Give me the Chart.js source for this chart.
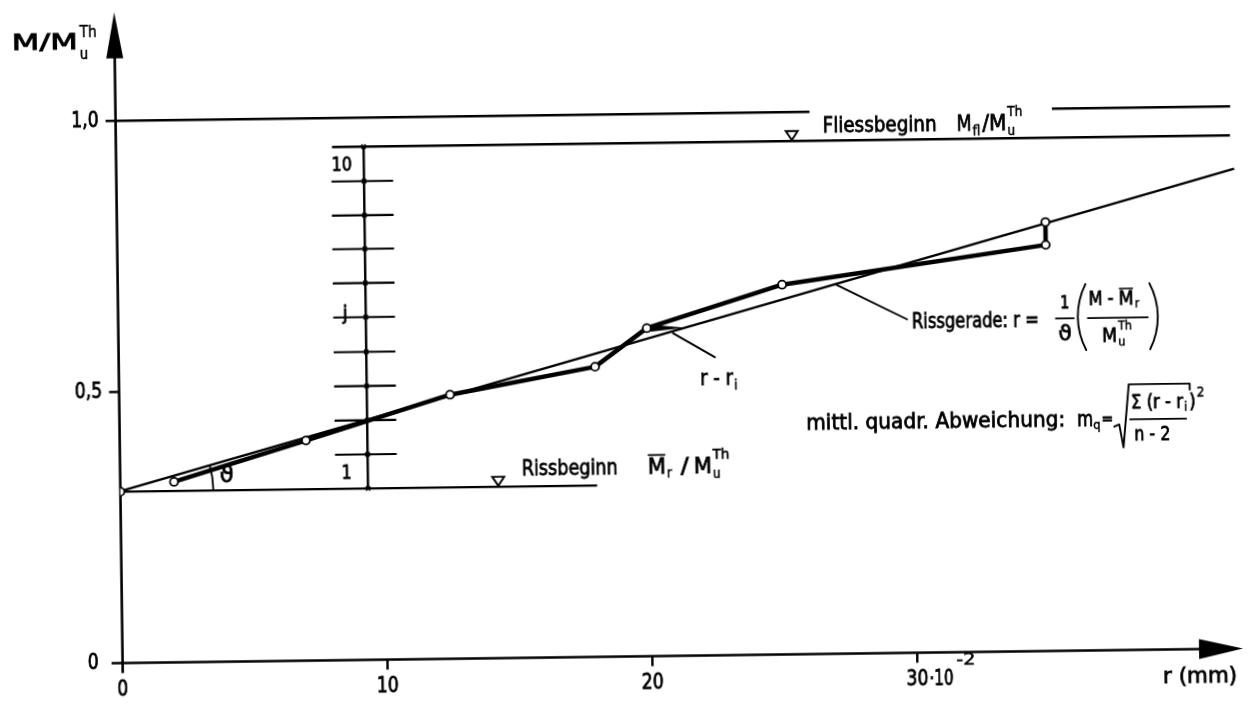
<!DOCTYPE html>
<html>
<head>
<meta charset="utf-8">
<script src="https://cdn.jsdelivr.net/npm/chart.js@4.4.1/dist/chart.umd.min.js"></script>
<style>
  html, body { margin: 0; padding: 0; background: #fff; overflow: hidden; }
  /* the scanned sheet sits slightly tilted */
  canvas { display: block; transform: rotate(-0.745deg); }
</style>
</head>
<body>
<canvas id="myChart" width="1251" height="704"></canvas>
<script>
// measured points, r in 10^-2 mm, M / Mu^Th
var rPoints = [2.03, 7.03, 12.49, 17.98, 19.95, 25.08, 35.05, 35.05];
var mPoints = [0.333, 0.406, 0.487, 0.535, 0.605, 0.682, 0.749, 0.791];

var crackLevel = 0.316;   // Rissbeginn
var yieldLevel = 0.9465;  // Fliessbeginn
var unityLevel = 1.0;

// Rissgerade (fitted line)
var fitR = [0, 42.2];
var fitM = [0.317, 0.885];

// j scale between Rissbeginn and Fliessbeginn
var jLevels = [0.316, 0.379, 0.442, 0.505, 0.568, 0.632, 0.695, 0.758, 0.820, 0.883, 0.9465];
var jR = 9.35;

var xTicks = [0, 10, 20, 30];
var xTickLabels = ['0', '10', '20', '30'];
var yTicks = [0, 0.5, 1.0];
var yTickLabels = ['0', '0,5', '1,0'];

var FONT = '"DejaVu Sans", "Liberation Sans", sans-serif';

function seg(x1, y1, x2, y2) {
    return [{x: x1, y: y1}, {x: x2, y: y2}];
}

function lineSet(data, width) {
    return {
        data: data,
        showLine: true,
        spanGaps: false,
        borderColor: '#000',
        borderWidth: width,
        pointRadius: 0,
        pointHoverRadius: 0
    };
}

var measured = rPoints.map(function (r, i) { return {x: r, y: mPoints[i]}; });
var fitLine = fitR.map(function (r, i) { return {x: r, y: fitM[i]}; });

var unityData = seg(0, unityLevel, 26.2, unityLevel)
    .concat([{x: 30, y: null}])
    .concat(seg(35.35, unityLevel, 42.08, unityLevel));

var jTickData = [];
jLevels.slice(1, -1).forEach(function (l) {
    jTickData.push({x: 8.12, y: l}, {x: 10.45, y: l}, {x: 10.45, y: null});
});
var jMarks = jLevels.map(function (l) { return {x: jR, y: l}; });

// text in the lettering style of the drawing: narrow, a bit heavy
function txt(ctx, s, x, y, size, opts) {
    opts = opts || {};
    ctx.save();
    ctx.font = size + 'px ' + FONT;
    ctx.textBaseline = 'middle';
    ctx.textAlign = 'left';
    ctx.fillStyle = '#000';
    ctx.strokeStyle = '#000';
    var w = ctx.measureText(s).width;
    var sx = opts.w ? opts.w / w : (opts.sx || 0.88);
    var left = x;
    if (opts.align === 'center') left = x - w * sx / 2;
    if (opts.align === 'right') left = x - w * sx;
    ctx.translate(left, y);
    ctx.scale(sx, 1);
    ctx.fillText(s, 0, 0);
    ctx.lineWidth = size > 15 ? 0.8 : 0.5;
    ctx.strokeText(s, 0, 0);
    ctx.restore();
    return left + w * sx;
}

function ln(ctx, pts, width) {
    ctx.beginPath();
    ctx.moveTo(pts[0][0], pts[0][1]);
    for (var i = 1; i < pts.length; i++) ctx.lineTo(pts[i][0], pts[i][1]);
    ctx.lineWidth = width;
    ctx.stroke();
}

function fillPoly(ctx, pts) {
    ctx.beginPath();
    ctx.moveTo(pts[0][0], pts[0][1]);
    for (var i = 1; i < pts.length; i++) ctx.lineTo(pts[i][0], pts[i][1]);
    ctx.closePath();
    ctx.fill();
}

var drawing = {
    id: 'drawing',
    beforeDraw: function (chart) {
        var ctx = chart.ctx;
        ctx.save();
        ctx.fillStyle = '#fff';
        ctx.fillRect(0, 0, chart.width, chart.height);
        ctx.restore();
    },
    beforeDatasetsDraw: function (chart) {
        var ctx = chart.ctx, xs = chart.scales.x, ys = chart.scales.y;
        var ox = xs.getPixelForValue(0), oy = ys.getPixelForValue(0);
        ctx.save();
        ctx.strokeStyle = '#000';
        ctx.fillStyle = '#000';
        ctx.lineCap = 'butt';

        // x axis with arrow
        var tipX = xs.right;
        ln(ctx, [[ox - 11, oy], [tipX - 40, oy]], 2.6);
        fillPoly(ctx, [[tipX, oy], [tipX - 44, oy - 10], [tipX - 44, oy + 10]]);
        // y axis with arrow
        var tipY = ys.top;
        ln(ctx, [[ox, oy + 10], [ox, tipY + 40]], 2.6);
        fillPoly(ctx, [[ox, tipY], [ox - 8.5, tipY + 46], [ox + 8.5, tipY + 46]]);

        xTicks.forEach(function (v, i) {
            var p = xs.getPixelForValue(v);
            if (v !== 0) ln(ctx, [[p, oy], [p, oy + 10]], 2.4);
            txt(ctx, xTickLabels[i], p, oy + 27, 21, {align: 'center', sx: 0.82});
        });
        // the 10^-2 factor after 30
        var p30 = xs.getPixelForValue(30);
        var e = txt(ctx, '·10', p30 + 12, oy + 27, 21, {w: 24});
        txt(ctx, '-2', e + 3, oy + 9, 15, {w: 19});

        yTicks.forEach(function (v, i) {
            var p = ys.getPixelForValue(v);
            if (v !== 0) ln(ctx, [[ox - 10, p], [ox, p]], 2.4);
            txt(ctx, yTickLabels[i], ox - (v === 0 ? 24 : 17), p, 21, {align: 'right', sx: 0.82});
        });

        // axis titles
        var a = {x: xs.getPixelForValue(-3.88), y: ys.getPixelForValue(1.1435)};
        e = txt(ctx, 'M/M', a.x, a.y, 21, {w: 66});
        txt(ctx, 'Th', e + 2, a.y - 10, 15, {w: 17});
        txt(ctx, 'u', e + 2, a.y + 12, 15);
        txt(ctx, 'r (mm)', xs.getPixelForValue(39.27), ys.getPixelForValue(-0.0522), 21, {w: 74});
        ctx.restore();
    },
    afterDatasetsDraw: function (chart) {
        var ctx = chart.ctx, xs = chart.scales.x, ys = chart.scales.y;
        function px(r, m) { return {x: xs.getPixelForValue(r), y: ys.getPixelForValue(m)}; }
        ctx.save();
        ctx.strokeStyle = '#000';
        ctx.fillStyle = '#000';
        ctx.lineCap = 'round';

        // level markers (open triangles pointing at the line)
        [[14.27, crackLevel], [25.52, yieldLevel]].forEach(function (t) {
            var p = px(t[0], t[1]);
            ctx.beginPath();
            ctx.moveTo(p.x, p.y - 1);
            ctx.lineTo(p.x - 6, p.y - 10);
            ctx.lineTo(p.x + 6, p.y - 10);
            ctx.closePath();
            ctx.fillStyle = '#fff';
            ctx.fill();
            ctx.lineWidth = 1.9;
            ctx.stroke();
        });
        ctx.fillStyle = '#000';

        // angle theta at the start of the Rissgerade
        var f0 = px(fitR[0], fitM[0]), f1 = px(fitR[1], fitM[1]);
        var ang = Math.atan2(f1.y - f0.y, f1.x - f0.x);
        ctx.beginPath();
        ctx.arc(f0.x, f0.y, 93, ang, 0);
        ctx.lineWidth = 1.8;
        ctx.stroke();
        var th = px(4.02, 0.3418);
        txt(ctx, 'ϑ', th.x, th.y, 23, {align: 'center', sx: 1});

        // j scale labels
        var l10 = px(8.52, 0.9128), lj = px(8.57, 0.638), l1 = px(8.55, 0.345);
        txt(ctx, '10', l10.x, l10.y, 20, {align: 'center', sx: 0.8});
        txt(ctx, 'j', lj.x, lj.y, 20, {align: 'center'});
        txt(ctx, '1', l1.x, l1.y, 20, {align: 'center', sx: 0.8});

        // level labels
        var fl = px(26.69, 0.9716);
        var e = txt(ctx, 'Fliessbeginn', fl.x, fl.y, 21, {w: 114});
        e = txt(ctx, 'M', e + 20, fl.y, 21, {w: 15});
        e = txt(ctx, 'fl', e + 1, fl.y + 7, 14);
        e = txt(ctx, '/M', e + 2, fl.y, 21, {w: 24});
        txt(ctx, 'Th', e + 1, fl.y - 12, 14, {w: 15});
        txt(ctx, 'u', e + 1, fl.y + 7, 14);

        var rb = px(15.16, 0.3471);
        e = txt(ctx, 'Rissbeginn', rb.x, rb.y, 21, {w: 96});
        var mx = e + 30;
        e = txt(ctx, 'M', mx, rb.y, 21, {w: 18});
        ln(ctx, [[mx + 1, rb.y - 13], [e - 1, rb.y - 13]], 1.8);
        e = txt(ctx, 'r', e + 1, rb.y + 6, 14);
        e = txt(ctx, '/', e + 9, rb.y, 21, {w: 8});
        e = txt(ctx, 'M', e + 5, rb.y, 21, {w: 18});
        txt(ctx, 'Th', e + 1, rb.y - 12, 14, {w: 17});
        txt(ctx, 'u', e + 1, rb.y + 7, 14);

        // r - ri : distance from point to the fitted line
        var p5 = px(rPoints[4], mPoints[4]);
        var rLine = fitR[0] + (mPoints[4] - fitM[0]) / (fitM[1] - fitM[0]) * (fitR[1] - fitR[0]);
        var q = px(rLine, mPoints[4]);
        fillPoly(ctx, [[p5.x + 4, p5.y - 3.5], [q.x, p5.y], [p5.x + 4, p5.y + 3.5]]);
        var s1 = px(20.94, 0.595), s2 = px(22.51, 0.5499);
        ln(ctx, [[s1.x, s1.y], [s2.x, s2.y]], 1.9);
        var rr = px(21.94, 0.508);
        e = txt(ctx, 'r - r', rr.x, rr.y, 21, {w: 33});
        txt(ctx, 'i', e + 1, rr.y + 6, 14);

        // Rissgerade formula
        var g1 = px(27.08, 0.6817), g2 = px(29.78, 0.615);
        ln(ctx, [[g1.x, g1.y], [g2.x, g2.y]], 1.9);
        var A = px(29.96, 0.6094);
        txt(ctx, 'Rissgerade: r =', A.x, A.y, 21, {w: 127});
        txt(ctx, '1', A.x + 153, A.y - 17, 18, {align: 'center', sx: 0.8});
        ln(ctx, [[A.x + 144, A.y - 2], [A.x + 162, A.y - 2]], 1.8);
        txt(ctx, 'ϑ', A.x + 153, A.y + 14, 22, {align: 'center', sx: 1});
        ctx.lineWidth = 1.9;
        ctx.beginPath();
        ctx.arc(A.x + 166 + 72, A.y - 3, 72, Math.PI - 0.476, Math.PI + 0.476);
        ctx.stroke();
        ctx.beginPath();
        ctx.arc(A.x + 246 - 72, A.y - 3, 72, -0.476, 0.476);
        ctx.stroke();
        e = txt(ctx, 'M - ', A.x + 177, A.y - 20, 19, {w: 30});
        var m2 = e;
        e = txt(ctx, 'M', m2, A.y - 20, 19, {w: 15});
        ln(ctx, [[m2 + 1, A.y - 31], [e - 1, A.y - 31]], 1.6);
        txt(ctx, 'r', e + 1, A.y - 15, 13);
        ln(ctx, [[A.x + 176, A.y - 2], [A.x + 236, A.y - 2]], 1.8);
        e = txt(ctx, 'M', A.x + 190, A.y + 17, 19, {w: 15});
        txt(ctx, 'Th', e + 1, A.y + 7, 13, {w: 14});
        txt(ctx, 'u', e + 1, A.y + 23, 13);

        // mean square deviation
        var B = px(25.92, 0.4234);
        e = txt(ctx, 'mittl. quadr. Abweichung:', B.x, B.y, 21, {w: 259});
        e = txt(ctx, 'm', B.x + 271, B.y, 21, {w: 16});
        e = txt(ctx, 'q', e, B.y + 5, 13);
        e = txt(ctx, '=', e + 1, B.y - 1, 16);
        ctx.lineJoin = 'round';
        ln(ctx, [[e + 1, B.y + 6], [e + 6, B.y + 4], [e + 10, B.y + 27], [e + 16, B.y - 36], [B.x + 384, B.y - 36], [B.x + 384, B.y - 30]], 1.9);
        var nx = e + 18;
        var n = txt(ctx, 'Σ (r - r', nx, B.y - 17, 19, {w: 52});
        n = txt(ctx, 'i', n + 1, B.y - 12, 13);
        n = txt(ctx, ')', n + 2, B.y - 17, 19);
        txt(ctx, '2', n + 1, B.y - 27, 14);
        ln(ctx, [[e + 17, B.y - 1], [B.x + 380, B.y - 1]], 1.9);
        txt(ctx, 'n - 2', (e + 17 + B.x + 380) / 2 - 6, B.y + 15, 20, {align: 'center', w: 36});
        ctx.restore();
    }
};

var ctx = document.getElementById('myChart').getContext('2d');
var myChart = new Chart(ctx, {
    type: 'scatter',
    data: {
        datasets: [
            // measured points, drawn on top
            {
                data: measured,
                showLine: true,
                borderColor: '#000',
                borderWidth: 4.5,
                borderJoinStyle: 'round',
                pointRadius: 4,
                pointBorderWidth: 1.8,
                pointBorderColor: '#000',
                pointBackgroundColor: '#fff'
            },
            {
                data: [{x: 0, y: crackLevel}],
                pointRadius: 4,
                pointBorderWidth: 1.8,
                pointBorderColor: '#000',
                pointBackgroundColor: '#fff'
            },
            {
                data: jMarks,
                pointStyle: 'crossRot',
                pointRadius: 3,
                borderWidth: 1.6,
                pointBorderColor: '#000'
            },
            lineSet(fitLine, 2.4),
            lineSet(unityData, 2.4),
            lineSet(seg(8.16, yieldLevel, 42.06, yieldLevel), 2.4),
            lineSet(seg(0, crackLevel, 18.0, crackLevel), 2.4),
            lineSet(seg(jR, crackLevel, jR, yieldLevel), 2.4),
            lineSet(jTickData, 2.1)
        ]
    },
    options: {
        responsive: false,
        animation: false,
        devicePixelRatio: 1,
        layout: {
            padding: {left: 118.6, top: 1.2, right: 11.9, bottom: 47.5}
        },
        plugins: {
            legend: {display: false},
            tooltip: {enabled: false}
        },
        scales: {
            x: {type: 'linear', min: 0, max: 42.3, display: false},
            y: {type: 'linear', min: 0, max: 1.2, display: false}
        }
    },
    plugins: [drawing]
});
</script>
</body>
</html>
